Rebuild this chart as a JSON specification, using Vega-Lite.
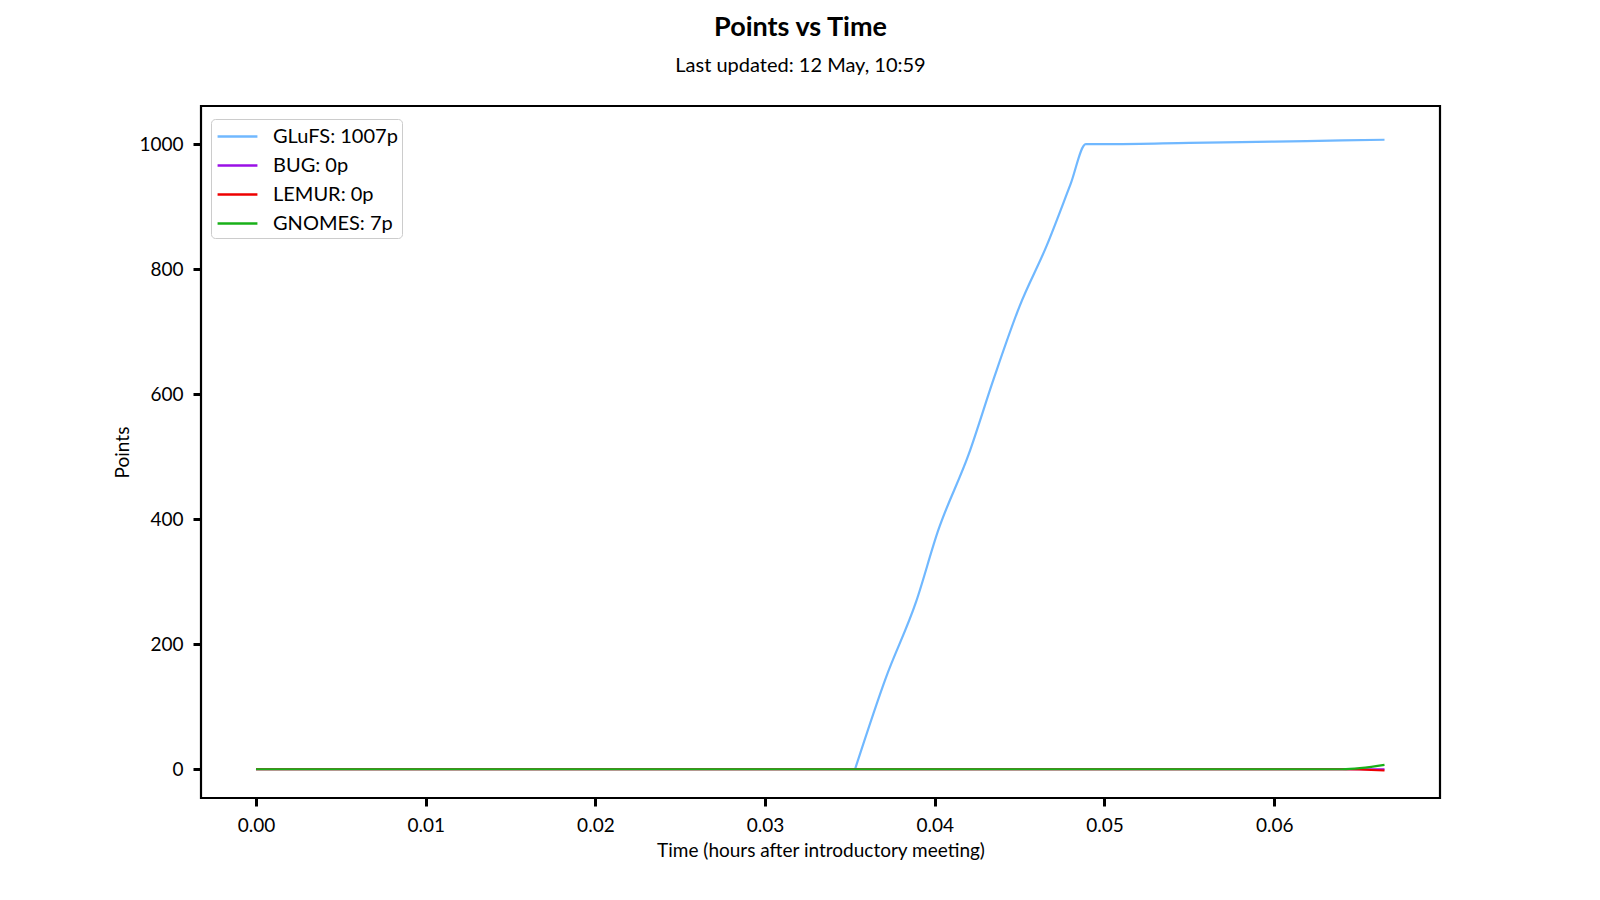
{
  "$schema": "https://vega.github.io/schema/vega-lite/v6.json",
  "autosize": {"type": "none"},
  "width": 1239,
  "height": 692,
  "padding": {"left": 201, "top": 106, "right": 160, "bottom": 102},
  "background": "white",
  "title": {
    "text": "Points vs Time",
    "subtitle": "Last updated: 12 May, 10:59",
    "anchor": "middle",
    "dx": -20,
    "offset": 29,
    "font": "Lato",
    "fontSize": 27,
    "fontWeight": "bold",
    "color": "black",
    "subtitleFont": "Lato",
    "subtitleFontSize": 20,
    "subtitleColor": "black",
    "subtitlePadding": 14
  },
  "config": {
    "font": "Lato",
    "view": {"stroke": "black", "strokeWidth": 2.2},
    "axis": {
      "grid": false,
      "domain": false,
      "tickColor": "black",
      "tickWidth": 3,
      "tickSize": 8,
      "labelColor": "black",
      "labelFont": "Lato",
      "labelFontSize": 19,
      "titleFont": "Lato",
      "titleFontSize": 19,
      "titleFontWeight": "normal",
      "titleColor": "black"
    }
  },
  "data": {
    "values": [
      {"team": "GLuFS: 1007p", "t": 0.0353, "points": 0},
      {"team": "GLuFS: 1007p", "t": 0.0371, "points": 145},
      {"team": "GLuFS: 1007p", "t": 0.0389, "points": 268},
      {"team": "GLuFS: 1007p", "t": 0.0402, "points": 382},
      {"team": "GLuFS: 1007p", "t": 0.0420, "points": 504},
      {"team": "GLuFS: 1007p", "t": 0.0435, "points": 627},
      {"team": "GLuFS: 1007p", "t": 0.0450, "points": 741},
      {"team": "GLuFS: 1007p", "t": 0.0466, "points": 838},
      {"team": "GLuFS: 1007p", "t": 0.0480, "points": 936},
      {"team": "GLuFS: 1007p", "t": 0.0489, "points": 1000},
      {"team": "GLuFS: 1007p", "t": 0.0505, "points": 1000},
      {"team": "GLuFS: 1007p", "t": 0.0550, "points": 1002},
      {"team": "GLuFS: 1007p", "t": 0.0600, "points": 1004},
      {"team": "GLuFS: 1007p", "t": 0.0640, "points": 1006},
      {"team": "GLuFS: 1007p", "t": 0.0665, "points": 1007},
      {"team": "BUG: 0p", "t": 0.0, "points": 0},
      {"team": "BUG: 0p", "t": 0.0665, "points": 0},
      {"team": "LEMUR: 0p", "t": 0.0, "points": 0},
      {"team": "LEMUR: 0p", "t": 0.0640, "points": 0},
      {"team": "LEMUR: 0p", "t": 0.0665, "points": -2},
      {"team": "GNOMES: 7p", "t": 0.0, "points": 0},
      {"team": "GNOMES: 7p", "t": 0.0640, "points": 0},
      {"team": "GNOMES: 7p", "t": 0.0665, "points": 7}
    ]
  },
  "mark": {"type": "line", "strokeWidth": 2.2, "interpolate": "monotone"},
  "encoding": {
    "x": {
      "field": "t",
      "type": "quantitative",
      "scale": {"domain": [-0.00324, 0.06977], "nice": false, "zero": false},
      "axis": {
        "values": [0, 0.01, 0.02, 0.03, 0.04, 0.05, 0.06],
        "format": ".2f",
        "title": "Time (hours after introductory meeting)",
        "labelPadding": 10,
        "titlePadding": 6
      }
    },
    "y": {
      "field": "points",
      "type": "quantitative",
      "scale": {"domain": [-46, 1061], "nice": false, "zero": false},
      "axis": {
        "values": [0, 200, 400, 600, 800, 1000],
        "format": "d",
        "title": "Points",
        "labelPadding": 10,
        "titlePadding": 6
      }
    },
    "color": {
      "field": "team",
      "type": "nominal",
      "scale": {
        "domain": ["GLuFS: 1007p", "BUG: 0p", "LEMUR: 0p", "GNOMES: 7p"],
        "range": ["#70b8ff", "#9a10e6", "#ee0000", "#18b018"]
      },
      "legend": {
        "title": null,
        "orient": "none",
        "legendX": 10,
        "legendY": 13,
        "symbolType": "M-1.66,0H1.66",
        "symbolSize": 576,
        "symbolOffset": 9,
        "symbolStrokeWidth": 2.5,
        "labelFontSize": 20,
        "labelFont": "Lato",
        "labelColor": "black",
        "labelOffset": 22,
        "padding": 4,
        "rowPadding": 5,
        "strokeColor": "#cccccc",
        "fillColor": "white",
        "cornerRadius": 4
      }
    }
  }
}
